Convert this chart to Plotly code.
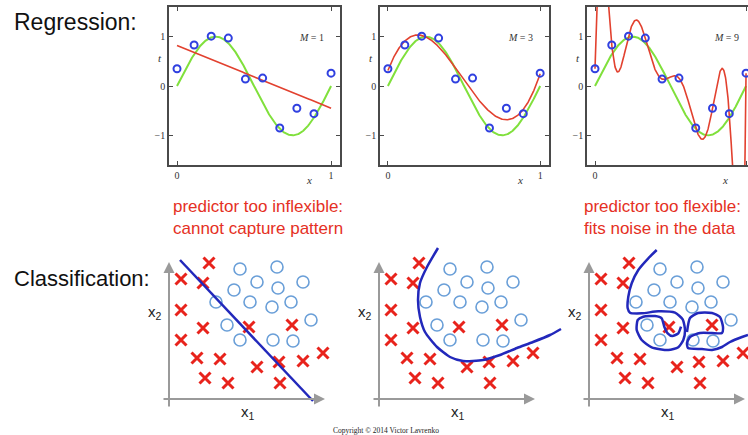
import numpy as np
import plotly.graph_objects as go

# ---------------- data ----------------
# Regression: 10 noisy observations of sin(2*pi*x)
reg_x = [0.0, 0.111, 0.222, 0.333, 0.444, 0.556, 0.667, 0.778, 0.889, 1.0]
reg_t = [0.35, 0.83, 1.01, 0.97, 0.14, 0.16, -0.85, -0.45, -0.56, 0.26]
poly_orders = [1, 3, 9]
reg_xticks = [0, 1]
reg_yticks = [-1, 0, 1]

# Classification: two classes (x1, x2)
cross_x1 = [4.0, 1.2, 3.4, 1.2, 3.4, 8.0, 12.3, 1.2, 2.8, 5.1, 8.8, 11.0, 13.4, 15.4, 3.6, 5.9, 11.1]
cross_x2 = [13.6, 12.0, 11.6, 8.9, 7.1, 7.2, 7.4, 5.9, 4.1, 4.0, 3.2, 3.7, 3.8, 4.6, 2.1, 1.6, 1.6]
circ_x1 = [7.1, 10.8, 8.8, 13.4, 6.5, 10.9, 4.7, 8.1, 10.3, 12.2, 5.8, 14.2, 7.1, 10.4, 12.4]
circ_x2 = [13.0, 13.2, 11.7, 11.7, 10.9, 11.1, 9.7, 9.7, 9.2, 9.7, 7.4, 7.9, 5.9, 5.9, 5.8]

# Decision boundaries
lin_b_x1 = [1.1, 14.4]
lin_b_x2 = [13.9, -0.2]
mid_b_x1 = [5.9, 4.8, 4.1, 3.9, 4.1, 4.6, 5.8, 7.1, 8.4, 10.4, 12.1, 13.8, 15.4, 17.1, 18.2]
mid_b_x2 = [15.1, 13.2, 11.6, 9.9, 8.2, 6.7, 5.2, 4.2, 3.8, 3.9, 4.4, 5.1, 5.7, 6.4, 7.0]
flex_a_x1 = [6.77, 5.93, 4.93, 4.27, 3.93, 3.87, 4.1, 5.27, 6.93, 8.6, 9.37, 9.6, 9.43, 8.93, 7.93,
             6.27, 5.27, 4.77, 4.87, 5.43, 6.6, 7.27, 7.53, 7.87, 8.33, 8.93, 9.2]
flex_a_x2 = [14.9, 14.07, 12.9, 11.57, 10.23, 9.07, 8.63, 8.57, 8.77, 8.63, 7.97, 6.9, 5.9, 5.17, 4.9,
             5.17, 5.9, 6.9, 7.9, 8.23, 8.3, 8.07, 7.23, 6.57, 6.3, 6.57, 7.23]
flex_b_x1 = [9.8, 10.1, 10.9, 12.3, 13.1, 13.4, 13.3, 12.3, 11.1, 10.1, 9.8, 9.9, 11.3, 12.3, 13.3, 14.1, 15.3, 15.9]
flex_b_x2 = [6.7, 8.1, 8.6, 8.6, 8.2, 7.2, 6.6, 6.6, 6.6, 6.2, 5.6, 5.1, 5.0, 4.9, 5.2, 5.7, 6.2, 6.4]

# Classification axis extents (tail, head)
cls_axis_x1 = [-0.7, 15.6]
cls_axis_x2 = [-0.9, 13.7]

# ---------------- styling ----------------
W, H = 748, 435
SERIF = "Liberation Serif, Times New Roman, serif"
SANS = "Liberation Sans, Arial, sans-serif"
GREEN = "#80e03c"
RED_FIT = "#e2412f"
PT_BLUE = "#3040e0"
X_RED = "#e8231c"
C_BLUE = "#6a9fd8"
B_BLUE = "#2228bb"
AX_GRAY = "#9a9a9a"
FRAME = "#4a4a4a"


def dx(a, b):
    return [a / W, min(b / W, 1.0)]


def dy(top, bottom):
    return [1 - bottom / H, 1 - top / H]


fig = go.Figure()


def paper_text(px, py, text, font, xanchor="left"):
    fig.add_annotation(x=px / W, y=1 - py / H, xref="paper", yref="paper",
                       xanchor=xanchor, yanchor="middle", align="left",
                       text=text, showarrow=False, font=font)


# ---- regression panels ----
reg_dom = [dx(169, 340), dx(380, 549), dx(587, 748)]
reg_rng = [[-0.052, 1.058], [-0.052, 1.058], [-0.053, 1.013]]
reg_x0px = [177, 388, 595]      # pixel where x = 0
reg_pxunit = [154, 154, 151]    # pixels per x unit
xs = np.linspace(0, 1, 500)
true_curve = np.sin(2 * np.pi * xs)
serif_small = dict(family=SERIF, size=11, color="#333")

for i, M in enumerate(poly_orders):
    k = i + 1
    xa, ya = f"x{k}", f"y{k}"
    fit = np.polynomial.Polynomial.fit(reg_x, reg_t, M)
    fig.add_trace(go.Scatter(x=xs, y=true_curve, mode="lines",
                             line=dict(color=GREEN, width=2), xaxis=xa, yaxis=ya,
                             hoverinfo="skip"))
    fig.add_trace(go.Scatter(x=xs, y=fit(xs), mode="lines",
                             line=dict(color=RED_FIT, width=1.6), xaxis=xa, yaxis=ya,
                             hoverinfo="skip"))
    fig.add_trace(go.Scatter(x=reg_x, y=reg_t, mode="markers",
                             marker=dict(symbol="circle-open", size=7, color=PT_BLUE,
                                         line=dict(width=2, color=PT_BLUE)),
                             xaxis=xa, yaxis=ya, cliponaxis=False))
    axfont = dict(family=SERIF, size=10, color="#333")
    fig.layout[f"xaxis{k}"] = dict(domain=reg_dom[i], range=reg_rng[i], anchor=ya,
                                   showline=True, linecolor=FRAME, linewidth=1.5, mirror="allticks",
                                   ticks="inside", ticklen=4, tickcolor=FRAME,
                                   tickvals=reg_xticks, tickfont=axfont,
                                   showgrid=False, zeroline=False, fixedrange=True)
    fig.layout[f"yaxis{k}"] = dict(domain=dy(7, 165), range=[-1.6, 1.6], anchor=xa,
                                   showline=True, linecolor=FRAME, linewidth=1.5,
                                   mirror=("allticks" if k < 3 else False),
                                   ticks="inside", ticklen=4, tickcolor=FRAME,
                                   tickvals=reg_yticks, tickfont=axfont,
                                   showgrid=False, zeroline=False, fixedrange=True)
    fig.add_annotation(x=0.87, y=0.98, xref=xa, yref=ya, text=f"<i>M</i> = {M}",
                       showarrow=False, font=dict(family=SERIF, size=10, color="#333"))
    # axis titles (outside the plotting range -> paper coordinates)
    paper_text(reg_x0px[i] - 17, 58, "<i>t</i>", serif_small, xanchor="center")
    paper_text(reg_x0px[i] + 0.86 * reg_pxunit[i], 180, "<i>x</i>", serif_small, xanchor="center")

# ---- classification panels ----
cls_dom = [dx(144, 350), dx(354, 564), dx(566, 748)]
cls_rng = [[-2.5, 18.1], [-2.5, 18.5], [-2.3, 15.9]]
boundaries = [
    [(lin_b_x1, lin_b_x2)],
    [(mid_b_x1, mid_b_x2)],
    [(flex_a_x1, flex_a_x2), (flex_b_x1, flex_b_x2)],
]
for i in range(3):
    k = i + 4
    xa, ya = f"x{k}", f"y{k}"
    fig.layout[f"xaxis{k}"] = dict(domain=cls_dom[i], range=cls_rng[i], anchor=ya,
                                   visible=False, fixedrange=True)
    fig.layout[f"yaxis{k}"] = dict(domain=dy(247, 420), range=[-2.1, 15.2], anchor=xa,
                                   visible=False, fixedrange=True)
    # axes with arrow heads
    fig.add_annotation(x=0, y=cls_axis_x2[1], ax=0, ay=cls_axis_x2[0],
                       xref=xa, yref=ya, axref=xa, ayref=ya,
                       text="", showarrow=True, arrowhead=2, arrowsize=1.1, arrowwidth=2,
                       arrowcolor=AX_GRAY)
    fig.add_annotation(x=cls_axis_x1[1], y=0, ax=cls_axis_x1[0], ay=0,
                       xref=xa, yref=ya, axref=xa, ayref=ya,
                       text="", showarrow=True, arrowhead=2, arrowsize=1.1, arrowwidth=2,
                       arrowcolor=AX_GRAY)
    fig.add_annotation(x=-1.45, y=8.7, xref=xa, yref=ya, text="x<sub>2</sub>",
                       showarrow=False, font=dict(family=SANS, size=15, color="#222"))
    fig.add_annotation(x=7.9, y=-1.3, xref=xa, yref=ya, text="x<sub>1</sub>",
                       showarrow=False, font=dict(family=SANS, size=15, color="#222"))
    fig.add_trace(go.Scatter(x=cross_x1, y=cross_x2, mode="markers",
                             marker=dict(symbol="x-thin", size=11, color=X_RED,
                                         line=dict(width=3, color=X_RED)),
                             xaxis=xa, yaxis=ya, cliponaxis=False))
    fig.add_trace(go.Scatter(x=circ_x1, y=circ_x2, mode="markers",
                             marker=dict(symbol="circle-open", size=12, color=C_BLUE,
                                         line=dict(width=1.6, color=C_BLUE)),
                             xaxis=xa, yaxis=ya, cliponaxis=False))
    for bx, by in boundaries[i]:
        fig.add_trace(go.Scatter(x=bx, y=by, mode="lines",
                                 line=dict(color=B_BLUE, width=2.5, shape="spline", smoothing=0.6),
                                 xaxis=xa, yaxis=ya))

# ---- texts ----
paper_text(12, 22, "Regression:", dict(family=SANS, size=23, color="#111"))
paper_text(12, 278, "Classification:", dict(family=SANS, size=22, color="#111"))
paper_text(171, 217, "predictor too inflexible:<br>cannot capture pattern",
           dict(family=SANS, size=17, color="#e53024"))
paper_text(582, 218, "predictor too flexible:<br>fits noise in the data",
           dict(family=SANS, size=17, color="#e53024"))
paper_text(386, 430, "Copyright © 2014 Victor Lavrenko",
           dict(family=SERIF, size=7.5, color="#222"), xanchor="center")

fig.update_layout(width=W, height=H, margin=dict(l=0, r=0, t=0, b=0),
                  paper_bgcolor="white", plot_bgcolor="white", showlegend=False)

fig.write_html("out.html", config={"displayModeBar": False},
               post_script="document.body.style.margin='0';")
